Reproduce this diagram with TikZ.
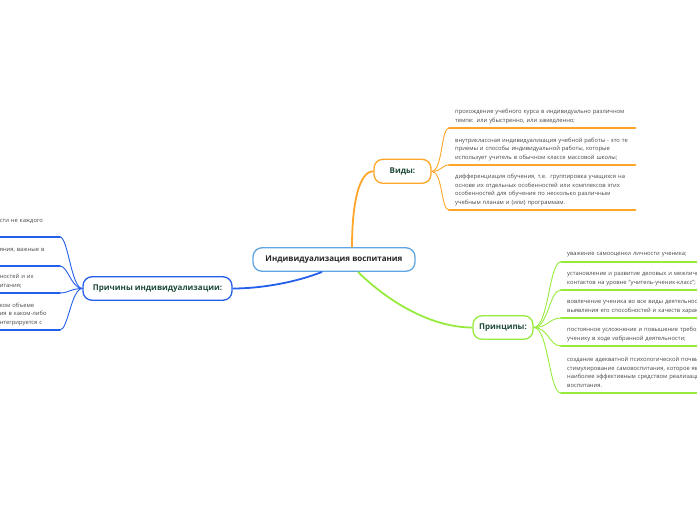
\documentclass[tikz,border=0pt]{standalone}
\usepackage{fontspec}
\setmainfont{Open Sans}
\usetikzlibrary{calc}
\definecolor{orng}{RGB}{255,165,40}
\definecolor{grn}{RGB}{150,235,60}
\definecolor{blu}{RGB}{35,95,235}
\definecolor{cblu}{RGB}{95,165,225}
\definecolor{head}{RGB}{30,75,55}
\definecolor{itxt}{RGB}{70,70,70}
\begin{document}
\begin{tikzpicture}[x=1pt,y=-1pt,
  topic/.style={draw, rounded corners=9pt, fill=white, line width=1.3pt,
    font=\fontsize{8}{10}\selectfont\bfseries, text=head, inner sep=0pt, minimum height=23.5pt},
  itembox/.style={align=left, inner xsep=6pt, inner ysep=3pt,
    font=\fontsize{5.8}{8.5}\selectfont, text=itxt},
  rightitem/.style={itembox, anchor=south west, text width=#1},
  leftitem/.style={itembox, anchor=south east, text width=54pt},
  uline/.style={draw=#1, line width=1.8pt, line cap=round},
  branch/.style={draw=#1, line width=0.9pt},
  trunk/.style={draw=#1, line width=1.8pt}]
\useasboundingbox (0,0) rectangle (697,520);
\clip (0,0) rectangle (697,520);

% main topics
\node[topic, draw=cblu, text=black!85, minimum width=162pt] (cen) at (334,259.5) {Индивидуализация воспитания};
\node[topic, draw=orng, minimum width=57pt, minimum height=24pt] (vid) at (402.5,171.3) {Виды:};
\node[topic, draw=blu, minimum width=149pt] (cau) at (157.5,288.5) {Причины индивидуализации:};
\node[topic, draw=grn, minimum width=60pt] (pri) at (503,327.5) {Принципы:};

% trunks
\coordinate (co) at ($(cen.north)+(18,0)$);
\coordinate (cb) at ($(cen.south)+(-12,0)$);
\coordinate (cg) at ($(cen.south)+(24,0)$);
\draw[trunk=orng] (co) .. controls +(0,-45) and +(-14,0) .. (vid.west);
\draw[trunk=blu] (cb) .. controls +(-25,10) and +(30,0) .. (cau.east);
\draw[trunk=grn] (cg) .. controls +(25,25) and +(-45,0) .. (pri.west);

% Виды items
\node[rightitem=174pt] (v1) at (449,128) {\strut прохождение учебного курса в индивидуально различном\\темпе: или убыстренно, или замедленно;\strut};
\node[rightitem=174pt] (v2) at (449,165) {\strut внутриклассная индивидуализация учебной работы - это те\\приемы и способы индивидуальной работы, которые\\использует учитель в обычном классе массовой школы;\strut};
\node[rightitem=174pt] (v3) at (449,210) {\strut дифференциация обучения, т.е.\ \ группировка учащихся на\\основе их отдельных особенностей или комплексов этих\\особенностей для обучения по несколько различным\\учебным планам и (или) программам.\strut};
\foreach \n in {v1,v2,v3}{
  \draw[uline=orng] (\n.south west) -- (\n.south east);
  \draw[branch=orng] (vid.east) .. controls +(11,0) and +(-8,0) .. (\n.south west);
}

% Принципы items
\node[rightitem=210pt] (p1) at (561,261.7) {\strut уважение самооценки личности ученика;\strut};
\node[rightitem=210pt] (p2) at (561,290) {\strut установление и развитие деловых и межличностных\\контактов на уровне "учитель-ученик-класс";\strut};
\node[rightitem=210pt] (p3) at (561,318) {\strut вовлечение ученика во все виды деятельности для\\выявления его способностей и качеств характера;\strut};
\node[rightitem=210pt] (p4) at (561,346) {\strut постоянное усложнение и повышение требований к\\ученику в ходе избранной деятельности;\strut};
\node[rightitem=210pt] (p5) at (561,393) {\strut создание адекватной психологической почвы для\\стимулирование самовоспитания, которое является\\наиболее эффективным средством реализации\\воспитания.\strut};
\foreach \n in {p1,p2,p3,p4,p5}{
  \draw[uline=grn] (\n.south west) -- (\n.south east);
  \draw[branch=grn] (pri.east) .. controls +(15,0) and +(-12,0) .. (\n.south west);
}

% Причины items
\node[leftitem] (c1) at (60,237) {\strut сти не каждого\\\strut};
\node[leftitem] (c2) at (60,266) {\strut яния, важные в\\\strut};
\node[leftitem] (c3) at (60,293) {\strut ностей и их\\итания;\strut};
\node[leftitem] (c4) at (60,330) {\strut ком объеме\\ия в каком-либо\\нтегрируется с\strut};
\foreach \n in {c1,c2,c3,c4}{
  \draw[uline=blu] (\n.south west) -- (\n.south east);
  \draw[branch=blu] (cau.west) .. controls +(-11,0) and +(8,0) .. (\n.south east);
}
\end{tikzpicture}
\end{document}
